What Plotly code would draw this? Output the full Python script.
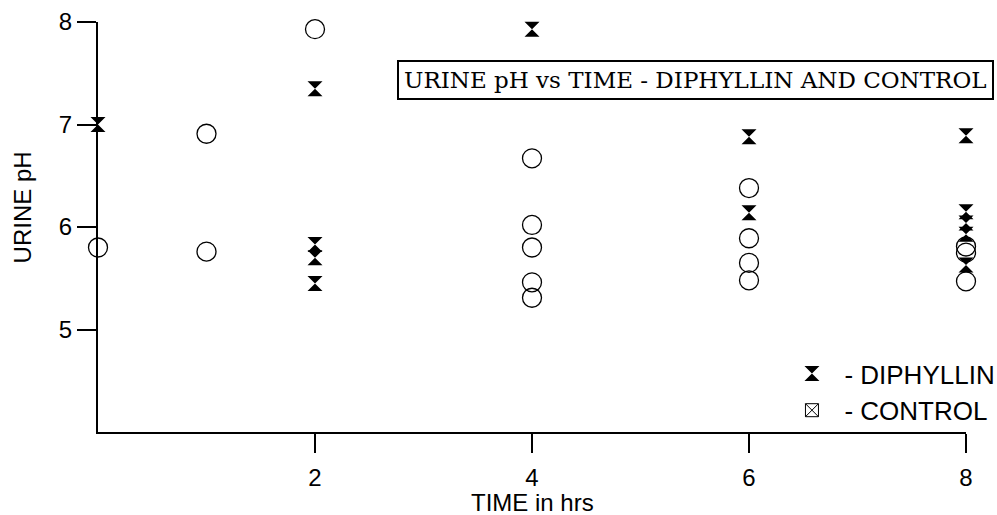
import plotly.graph_objects as go

# Urine pH readings over time for the two groups
dip_time = [0, 2, 2, 2, 2, 4, 6, 6, 8, 8, 8, 8, 8]
dip_ph = [7.00, 7.35, 5.83, 5.70, 5.45, 7.93, 6.88, 6.14, 6.89, 6.15, 6.04, 5.93, 5.63]

ctl_time = [0, 1, 1, 2, 4, 4, 4, 4, 4, 6, 6, 6, 6, 8, 8, 8]
ctl_ph = [5.80, 6.91, 5.76, 7.93, 6.67, 6.02, 5.80, 5.46, 5.31,
          6.38, 5.89, 5.65, 5.48, 5.81, 5.75, 5.47]

x_ticks = [2, 4, 6, 8]
y_ticks = [5, 6, 7, 8]

title_text = "URINE pH vs TIME - DIPHYLLIN AND CONTROL"
legend_dip = "\u00a0\u2009- DIPHYLLIN"
legend_ctl = "\u00a0\u2009- CONTROL"

SANS = "Liberation Sans, Arial, Helvetica, sans-serif"
SERIF = "DejaVu Serif, serif"

fig = go.Figure()

fig.add_trace(go.Scatter(
    x=ctl_time, y=ctl_ph, mode="markers", showlegend=False, cliponaxis=False,
    marker=dict(symbol="circle-open", size=19, color="black",
                line=dict(color="black", width=1.3)),
))
fig.add_trace(go.Scatter(
    x=dip_time, y=dip_ph, mode="markers", showlegend=False, cliponaxis=False,
    marker=dict(symbol="hourglass", size=15, color="black",
                line=dict(width=0)),
))

# legend entries
fig.add_trace(go.Scatter(
    x=[None], y=[None], mode="markers", name=legend_dip, legendgroup="d",
    marker=dict(symbol="hourglass", size=15, color="black", line=dict(width=0)),
))
fig.add_trace(go.Scatter(
    x=[None], y=[None], mode="markers", name=legend_ctl, legendgroup="c",
    marker=dict(symbol="square-x-open", size=13, color="black",
                line=dict(color="black", width=1)),
))

axis_common = dict(
    showline=True, linecolor="black", linewidth=2,
    ticks="outside", ticklen=19, tickwidth=2, tickcolor="black",
    showgrid=False, zeroline=False, automargin=False,
    tickfont=dict(family=SANS, size=24, color="black"),
)

fig.update_xaxes(range=[0, 8], tickvals=x_ticks, ticktext=[str(v) for v in x_ticks],
                 ticklabelstandoff=4, **axis_common)
fig.update_yaxes(range=[4, 8], tickvals=y_ticks, ticktext=[str(v) for v in y_ticks],
                 **axis_common)

fig.update_layout(
    width=997, height=515,
    margin=dict(l=98, r=31, t=22, b=83, autoexpand=False),
    plot_bgcolor="white", paper_bgcolor="white",
    font=dict(family=SANS, color="black"),
    legend=dict(
        x=0.7995, y=0.20, xanchor="left", yanchor="top",
        font=dict(family=SANS, size=26, color="black"),
        bgcolor="rgba(0,0,0,0)", tracegroupgap=0, traceorder="normal",
    ),
    annotations=[
        dict(text=title_text, xref="paper", yref="paper",
             x=0.3445, y=0.8585, xanchor="left", yanchor="middle",
             showarrow=False, bordercolor="black", borderwidth=2, borderpad=5,
             bgcolor="white",
             font=dict(family=SERIF, size=23, color="black")),
        dict(text="TIME in hrs", xref="paper", yref="paper",
             x=0.5, y=-0.173, xanchor="center", yanchor="middle",
             showarrow=False, font=dict(family=SANS, size=24, color="black")),
        dict(text="URINE pH", xref="paper", yref="paper",
             x=-0.087, y=0.549, xanchor="center", yanchor="middle", textangle=-90,
             showarrow=False, font=dict(family=SANS, size=24, color="black")),
    ],
)

fig.write_html("out.html")
